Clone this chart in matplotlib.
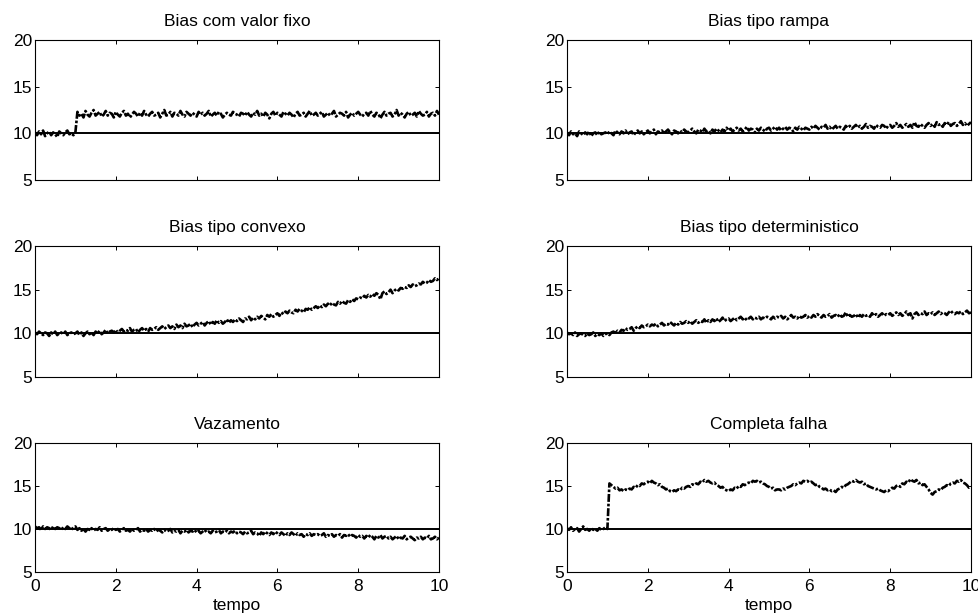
import numpy as np
import matplotlib
matplotlib.use('Agg')
import matplotlib.pyplot as plt

plt.rcParams['font.family'] = ['Liberation Sans', 'DejaVu Sans']

# time axis (s), sampled every 0.05
tempo = np.linspace(0, 10, 201)
ref_level = 10.0

titles = ['Bias com valor fixo', 'Bias tipo rampa',
          'Bias tipo convexo', 'Bias tipo deterministico',
          'Vazamento', 'Completa falha']

fixo = [
    10.1, 9.8, 10.2, 9.9, 10.3, 9.7, 10.0, 10.2, 9.8, 10.1, 9.9, 9.6, 10.2, 10.0, 9.8, 10.1, 10.3, 9.9, 10.0, 9.8,
    10.1, 12.3, 11.9, 12.1, 11.7, 12.4, 12.0, 11.8, 12.2, 12.5, 11.9, 12.1, 12.3, 11.8, 12.0, 12.4, 11.9, 12.2, 12.1, 11.7,
    12.3, 12.0, 11.8, 12.2, 12.4, 11.9, 12.1, 11.7, 12.0, 12.3, 12.1, 11.8, 12.2, 11.9, 12.4, 12.0, 11.8, 12.1, 12.3, 11.9,
    12.0, 12.2, 11.7, 12.1, 12.5, 11.9, 12.0, 12.3, 11.8, 12.2, 12.1, 11.9, 12.4, 12.0, 11.8, 12.3, 12.1, 11.9, 12.2, 12.0,
    11.8, 12.3, 12.0, 12.2, 11.9, 12.1, 12.4, 11.8, 12.0, 12.2, 11.9, 12.3, 12.1, 11.7, 12.0, 12.2, 12.0, 11.9, 12.3, 12.1,
    12.0, 11.8, 12.2, 12.1, 11.9, 12.3, 12.0, 11.8, 12.2, 12.0, 12.4, 11.9, 12.1, 11.8, 12.2, 12.0, 11.6, 12.1, 12.3, 11.9,
    12.2, 12.0, 11.8, 12.3, 12.1, 11.9, 12.2, 12.0, 11.7, 12.1, 12.3, 11.9, 12.0, 12.2, 11.8, 12.1, 12.4, 11.9, 12.0, 12.2,
    11.9, 12.1, 12.3, 11.8, 12.0, 12.2, 11.9, 12.1, 12.4, 11.8, 12.0, 12.2, 12.1, 11.9, 12.3, 11.7, 12.0, 12.2, 11.9, 12.1,
    12.3, 12.0, 11.8, 12.1, 12.2, 11.9, 12.4, 12.0, 11.8, 12.2, 12.1, 11.6, 12.0, 12.3, 11.9, 12.1, 12.2, 11.8, 12.0, 12.5,
    11.9, 12.2, 12.0, 11.7, 12.1, 12.3, 11.9, 12.0, 12.2, 11.8, 12.4, 12.1, 11.9, 12.0, 12.3, 11.8, 12.1, 12.2, 11.9, 12.4,
    12.0]

rampa = [
    10.1, 9.8, 10.2, 9.9, 10.0, 9.7, 10.2, 10.0, 9.8, 10.1, 9.9, 10.2, 9.7, 10.0, 10.1, 9.8, 10.2, 9.9, 10.0, 10.1,
    9.9, 10.2, 10.0, 9.8, 10.3, 10.1, 9.9, 10.2, 10.0, 10.3, 9.9, 10.1, 10.2, 9.8, 10.1, 10.3, 10.0, 10.2, 9.9, 10.1,
    10.3, 10.0, 10.2, 10.4, 9.9, 10.2, 10.1, 10.3, 10.0, 10.2, 10.4, 10.1, 9.9, 10.3, 10.2, 10.0, 10.3, 10.1, 10.4, 10.2,
    10.1, 10.3, 10.5, 10.2, 10.0, 10.4, 10.3, 10.1, 10.5, 10.2, 10.3, 10.0, 10.4, 10.2, 10.5, 10.3, 10.1, 10.4, 10.2, 10.6,
    10.3, 10.5, 10.2, 10.4, 10.6, 10.3, 10.5, 10.2, 10.4, 10.7, 10.3, 10.5, 10.4, 10.1, 10.5, 10.3, 10.6, 10.4, 10.2, 10.5,
    10.6, 10.3, 10.5, 10.7, 10.4, 10.6, 10.3, 10.5, 10.7, 10.4, 10.6, 10.5, 10.2, 10.6, 10.4, 10.7, 10.5, 10.3, 10.6, 10.5,
    10.4, 10.7, 10.5, 10.8, 10.6, 10.4, 10.7, 10.6, 10.9, 10.5, 10.7, 10.4, 10.6, 10.8, 10.5, 10.7, 10.6, 10.4, 10.8, 10.6,
    10.8, 10.5, 10.7, 10.9, 10.6, 10.8, 10.5, 10.7, 11.0, 10.6, 10.8, 10.7, 10.5, 10.9, 10.7, 10.6, 10.9, 10.8, 10.5, 10.8,
    10.9, 10.6, 10.8, 11.1, 10.7, 10.9, 10.6, 10.8, 11.0, 10.7, 10.9, 10.6, 11.2, 10.8, 10.7, 11.0, 10.8, 10.6, 10.9, 11.1,
    10.8, 11.0, 10.7, 11.2, 10.9, 11.0, 10.7, 11.1, 10.9, 11.2, 10.8, 11.0, 11.1, 10.8, 11.0, 11.3, 10.9, 11.1, 10.8, 11.0,
    11.2]

convexo = [
    10.1, 9.9, 10.2, 10.0, 9.8, 10.1, 10.0, 9.7, 10.1, 9.9, 10.2, 9.8, 10.0, 10.1, 9.9, 10.2, 9.8, 10.0, 10.1, 9.9,
    10.0, 10.2, 9.8, 10.1, 9.7, 10.0, 10.2, 9.9, 10.1, 9.8, 10.2, 10.0, 10.3, 9.9, 10.1, 10.4, 10.0, 10.2, 10.3, 10.1,
    10.4, 10.1, 10.3, 10.5, 10.2, 10.4, 10.3, 10.6, 10.2, 10.4, 10.5, 10.1, 10.4, 10.6, 10.3, 10.5, 10.2, 10.6, 10.4, 10.5,
    10.7, 10.4, 10.6, 10.8, 10.5, 10.7, 10.9, 10.6, 10.8, 10.5, 11.0, 10.7, 10.9, 10.6, 11.1, 10.8, 10.9, 11.1, 10.7, 11.0,
    11.2, 10.9, 11.1, 11.3, 10.9, 11.2, 11.4, 11.0, 11.3, 11.1, 11.5, 11.2, 11.4, 11.1, 11.3, 11.6, 11.2, 11.5, 11.3, 11.6,
    11.4, 11.7, 11.5, 11.3, 11.7, 11.6, 11.9, 11.5, 11.8, 11.6, 11.9, 11.7, 12.0, 11.8, 11.6, 12.1, 11.9, 12.2, 11.9, 12.1,
    12.3, 12.0, 12.4, 12.2, 12.5, 12.3, 12.6, 12.4, 12.3, 12.7, 12.5, 12.8, 12.6, 12.4, 12.8, 12.7, 13.0, 12.7, 12.9, 13.1,
    12.9, 13.2, 13.0, 13.3, 13.1, 13.4, 13.2, 13.5, 13.3, 13.2, 13.6, 13.4, 13.7, 13.5, 13.4, 13.8, 13.6, 13.9, 13.7, 14.0,
    13.9, 14.1, 14.0, 14.3, 14.1, 14.4, 14.2, 14.5, 14.3, 14.6, 14.4, 13.9, 14.6, 14.8, 14.5, 14.7, 15.0, 14.6, 14.9, 15.1,
    14.9, 15.2, 15.1, 15.3, 15.2, 15.5, 15.3, 15.6, 15.4, 15.5, 15.7, 15.6, 15.9, 15.7, 15.8, 16.1, 15.9, 16.0, 16.3, 16.1,
    16.3]

deterministico = [
    10.1, 9.9, 10.0, 9.8, 10.1, 9.7, 9.9, 10.0, 9.8, 9.7, 10.0, 9.8, 9.9, 10.1, 9.7, 9.9, 9.8, 10.0, 9.7, 9.9,
    10.0, 9.8, 10.1, 10.2, 10.0, 10.3, 10.1, 10.4, 10.3, 10.6, 10.4, 10.5, 10.7, 10.3, 10.6, 10.8, 10.6, 10.9, 10.7, 10.8,
    11.0, 10.8, 11.0, 10.9, 11.1, 10.8, 11.0, 11.2, 10.9, 11.1, 11.0, 11.3, 11.1, 10.9, 11.2, 11.0, 11.3, 11.1, 11.2, 11.4,
    11.2, 11.4, 11.1, 11.3, 11.5, 11.2, 11.4, 11.3, 11.6, 11.2, 11.5, 11.3, 11.6, 11.4, 11.7, 11.3, 11.5, 11.8, 11.4, 11.6,
    11.7, 11.4, 11.6, 11.8, 11.5, 11.7, 11.9, 11.6, 11.8, 11.5, 11.7, 11.9, 11.6, 11.8, 11.7, 11.9, 11.6, 11.8, 11.7, 11.9,
    11.8, 11.6, 11.9, 11.7, 11.9, 11.8, 12.0, 11.7, 11.9, 11.6, 11.8, 12.1, 11.8, 11.9, 11.7, 12.0, 11.8, 11.9, 12.1, 11.8,
    12.0, 11.8, 12.1, 11.9, 12.2, 12.0, 11.8, 12.1, 11.9, 12.0, 12.2, 11.8, 12.0, 12.1, 11.9, 12.2, 11.9, 12.0, 12.4, 11.9,
    12.1, 11.9, 12.0, 12.2, 11.8, 12.1, 11.9, 12.2, 12.0, 12.1, 11.9, 12.3, 12.0, 12.2, 11.9, 12.1, 12.3, 12.0, 12.2, 12.1,
    12.3, 12.0, 12.2, 12.4, 12.1, 12.3, 12.0, 12.2, 12.5, 12.1, 12.3, 11.7, 12.2, 12.4, 12.1, 12.3, 12.2, 12.5, 12.1, 12.3,
    12.2, 12.4, 12.1, 12.3, 12.5, 12.2, 12.4, 12.3, 12.1, 12.4, 12.6, 12.3, 12.2, 12.4, 12.3, 12.5, 12.2, 12.4, 12.6, 12.3,
    12.4]

vazamento = [
    10.3, 10.1, 10.2, 9.9, 10.3, 10.0, 10.2, 10.1, 9.9, 10.3, 10.0, 10.2, 10.1, 9.9, 10.2, 10.0, 10.3, 10.1, 9.9, 10.2,
    10.3, 9.9, 10.1, 9.8, 10.0, 9.7, 10.0, 9.9, 10.1, 9.8, 10.0, 9.9, 10.2, 9.8, 10.0, 10.1, 9.8, 10.0, 9.9, 10.1,
    9.9, 10.0, 9.7, 9.9, 10.1, 9.8, 9.9, 9.7, 10.0, 9.8, 9.9, 10.1, 9.7, 9.9, 9.8, 10.0, 9.7, 9.9, 9.8, 10.0,
    9.7, 9.9, 9.8, 9.6, 9.9, 9.7, 9.8, 10.0, 9.6, 9.8, 9.7, 9.9, 9.5, 9.8, 9.7, 9.9, 9.6, 9.8, 9.7, 9.9,
    9.6, 9.8, 9.5, 9.7, 9.9, 9.6, 9.7, 9.5, 9.8, 9.6, 9.7, 9.9, 9.5, 9.7, 9.6, 9.8, 9.5, 9.7, 9.6, 9.8,
    9.5, 9.7, 9.6, 9.4, 9.7, 9.5, 9.6, 9.8, 9.4, 9.6, 9.5, 9.2, 9.6, 9.4, 9.7, 9.5, 9.3, 9.6, 9.4, 9.7,
    9.5, 9.3, 9.6, 9.4, 9.2, 9.5, 9.3, 9.6, 9.4, 9.2, 9.5, 9.3, 9.4, 9.1, 9.4, 9.3, 9.5, 9.2, 9.4, 9.3,
    9.4, 9.2, 9.3, 9.5, 9.1, 9.3, 9.2, 9.4, 9.1, 9.3, 9.2, 9.4, 9.0, 9.3, 9.2, 9.4, 9.1, 9.3, 9.2, 9.0,
    9.3, 9.1, 9.2, 8.9, 9.2, 9.0, 9.3, 9.1, 8.8, 9.2, 9.0, 9.3, 8.9, 9.1, 9.2, 8.9, 9.1, 8.8, 9.0, 9.2,
    8.8, 9.0, 8.9, 9.2, 8.8, 9.0, 9.1, 8.9, 8.7, 9.0, 8.9, 9.1, 8.8, 9.0, 8.9, 9.2, 8.8, 8.9, 9.1, 8.8,
    9.0]

completa = [
    10.1, 9.9, 10.2, 9.8, 10.0, 10.1, 9.7, 10.0, 10.3, 9.9, 10.0, 9.8, 10.1, 9.9, 10.0, 9.8, 10.1, 9.9, 10.0, 10.2,
    10.0, 15.3, 15.1, 14.9, 14.7, 14.8, 14.5, 14.6, 14.4, 14.6, 14.5, 14.7, 14.6, 14.9, 14.8, 15.1, 15.0, 15.3, 15.2, 15.4,
    15.5, 15.3, 15.6, 15.4, 15.3, 15.1, 15.2, 14.9, 14.8, 14.6, 14.7, 14.4, 14.3, 14.5, 14.4, 14.6, 14.5, 14.8, 14.7, 14.9,
    15.0, 14.9, 15.2, 15.1, 15.3, 15.2, 15.5, 15.4, 15.7, 15.5, 15.6, 15.4, 15.3, 15.4, 15.1, 15.0, 14.8, 14.9, 14.6, 14.5,
    14.4, 14.6, 14.5, 14.8, 14.7, 15.0, 14.9, 15.2, 15.1, 15.3, 15.4, 15.3, 15.6, 15.5, 15.6, 15.4, 15.5, 15.3, 15.2, 15.0,
    14.9, 14.7, 14.8, 14.5, 14.6, 14.6, 14.5, 14.7, 14.6, 14.8, 14.9, 15.0, 15.2, 15.1, 15.3, 15.4, 15.3, 15.6, 15.5, 15.6,
    15.4, 15.5, 15.3, 15.1, 15.2, 14.9, 14.8, 14.6, 14.7, 14.5, 14.6, 14.4, 14.5, 14.3, 14.6, 14.7, 14.9, 14.8, 15.1, 15.2,
    15.4, 15.6, 15.5, 15.7, 15.5, 15.4, 15.5, 15.2, 15.3, 15.0, 14.9, 14.8, 14.7, 14.6, 14.7, 14.5, 14.4, 14.3, 14.5, 14.4,
    14.6, 14.8, 14.7, 15.0, 15.1, 14.9, 15.3, 15.2, 15.5, 15.4, 15.8, 15.6, 15.5, 15.7, 15.3, 15.4, 15.1, 15.2, 14.9, 14.6,
    14.2, 14.0, 14.3, 14.4, 14.6, 14.5, 14.8, 14.9, 15.1, 15.0, 15.3, 15.4, 15.3, 15.6, 15.5, 15.7, 15.4, 15.3, 15.1, 14.8,
    14.9]

series = [fixo, rampa, convexo, deterministico, vazamento, completa]

# axes boxes in pixels (left, top, right, bottom)
W, H = 979, 616
cols = [(35, 439), (567, 971)]
rows = [(40, 180), (246, 377), (443, 572)]

fig = plt.figure(figsize=(W / 100, H / 100), dpi=100)

for i, (title, y) in enumerate(zip(titles, series)):
    r, c = divmod(i, 2)
    x0, x1 = cols[c]
    y0, y1 = rows[r]
    ax = fig.add_axes([x0 / W, 1 - y1 / H, (x1 - x0) / W, (y1 - y0) / H])
    ax.plot(tempo, y, color='black', linestyle='-.', linewidth=1.9,
            dashes=(3, 0.7, 1, 0.7))
    ax.axhline(ref_level, color='black', linewidth=1.4)
    ax.set_xlim(0, 10)
    ax.set_ylim(5, 20)
    ax.set_xticks(range(0, 11, 2))
    ax.set_yticks([5, 10, 15, 20])
    ax.tick_params(direction='in', top=True, right=True, length=3,
                   width=0.7, labelsize=12.5, pad=2)
    ax.tick_params(axis='x', pad=5)
    for s in ax.spines.values():
        s.set_linewidth(0.8)
    ax.set_title(title, fontsize=12.5, pad=10)
    if r == 2:
        ax.set_xlabel('tempo', fontsize=12.5, labelpad=3)
    else:
        ax.set_xticklabels([])

fig.savefig('out.png', dpi=100)
